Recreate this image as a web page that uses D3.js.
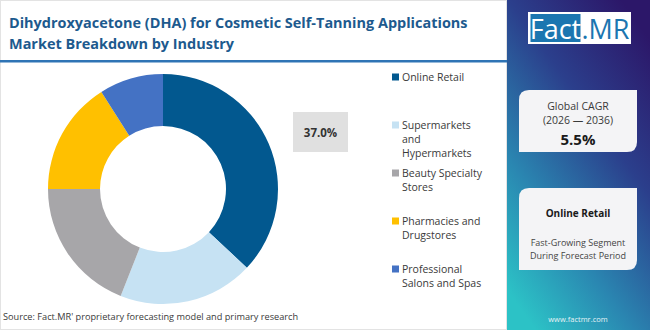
<!DOCTYPE html>
<html>
<head>
<meta charset="utf-8">
<script src="https://cdn.jsdelivr.net/npm/d3@7"></script>
<style>
  html, body { margin: 0; padding: 0; background: #ffffff; }
  svg { display: block; }
  text { font-family: "Open Sans", "Noto Sans", sans-serif; }
</style>
</head>
<body>
<svg id="chart" width="650" height="330"></svg>
<script>
// Market share by industry (percent)
const segments = ["Online Retail", "Supermarkets and Hypermarkets", "Beauty Specialty Stores", "Pharmacies and Drugstores", "Professional Salons and Spas"];
const shares = [37, 19, 19, 16, 9];
const legendLines = [["Online Retail"], ["Supermarkets", "and", "Hypermarkets"], ["Beauty Specialty", "Stores"], ["Pharmacies and", "Drugstores"], ["Professional", "Salons and Spas"]];
const sliceColors = ["#02588f", "#c6e2f3", "#a7a6a9", "#ffc000", "#4472c4"];
const titleLines = ["Dihydroxyacetone (DHA) for Cosmetic Self-Tanning Applications", "Market Breakdown by  Industry"];
const cagrLabel = ["Global CAGR", "(2026 \u2014 2036)"];
const cagrValue = 5.5;
const leadSegment = "Online Retail";
const leadNote = ["Fast-Growing Segment", "During Forecast Period"];
const sourceText = "Source: Fact.MR' proprietary forecasting model and primary research";

const svg = d3.select("#chart");
const W = 650, H = 330, panelX = 507;

// ---- left white area with light frame
svg.append("rect").attr("x", 0.5).attr("y", 0.5).attr("width", panelX - 1).attr("height", H - 1)
  .attr("fill", "#ffffff").attr("stroke", "#e3e3e3");

// ---- title (shrunk if needed so the first line fits its column)
const title = svg.append("g");
const titleSize = 14.5;
const titleEls = titleLines.map((t, i) => title.append("text").attr("x", 9).attr("y", 28 + i * 21)
  .attr("font-size", titleSize).attr("font-weight", 700).attr("fill", "#1d5a8e").text(t));
const firstLen = titleEls[0].node().getComputedTextLength();
const titleTarget = 459;
if (firstLen > titleTarget) {
  title.selectAll("text").attr("font-size", titleSize * titleTarget / firstLen);
}
svg.append("rect").attr("x", 0).attr("y", 60).attr("width", panelX).attr("height", 2.5).attr("fill", "#2f74b5");

// ---- donut
const cx = 163, cy = 189, rOuter = 115, rInner = 63;
const pie = d3.pie().sort(null).value(d => d.v);
const arc = d3.arc().innerRadius(rInner).outerRadius(rOuter);
const data = segments.map((s, i) => ({ name: s, v: shares[i] }));
const color = d3.scaleOrdinal().domain(segments).range(sliceColors);
svg.append("g").attr("transform", `translate(${cx},${cy})`)
  .selectAll("path").data(pie(data)).join("path")
  .attr("d", arc).attr("fill", d => color(d.data.name));

// value callout for the leading segment
const total = d3.sum(shares);
const leadIdx = segments.indexOf(leadSegment);
const callout = svg.append("g").attr("transform", "translate(293,112)");
callout.append("rect").attr("width", 55).attr("height", 40).attr("fill", "#e0e0e0");
callout.append("text").attr("x", 27.5).attr("y", 24.5).attr("text-anchor", "middle")
  .attr("font-size", 11.5).attr("font-weight", 700).attr("fill", "#333333")
  .text(d3.format(".1f")(shares[leadIdx] / total * 100) + "%");

// ---- legend
const legendY = [77, 125, 173, 221, 269];
const legend = svg.append("g");
legendLines.forEach((lines, i) => {
  const g = legend.append("g").attr("transform", `translate(392,${legendY[i]})`);
  g.append("rect").attr("x", 0).attr("y", -3.5).attr("width", 7).attr("height", 7).attr("fill", sliceColors[i]);
  lines.forEach((ln, j) => {
    g.append("text").attr("x", 10).attr("y", j * 14).attr("dy", "0.35em")
      .attr("font-size", 10.5).attr("fill", "#3a3a3a").text(ln);
  });
});

// ---- right panel
const defs = svg.append("defs");
const grad = defs.append("linearGradient").attr("id", "panelGrad")
  .attr("x1", "0.8").attr("y1", "0").attr("x2", "0.2").attr("y2", "1");
grad.append("stop").attr("offset", "0").attr("stop-color", "#2c1769");
grad.append("stop").attr("offset", "0.35").attr("stop-color", "#2b3f8c");
grad.append("stop").attr("offset", "0.7").attr("stop-color", "#2a86b1");
grad.append("stop").attr("offset", "1").attr("stop-color", "#2cc2c6");
svg.append("rect").attr("x", panelX).attr("y", 0).attr("width", W - panelX).attr("height", H).attr("fill", "url(#panelGrad)");

// logo
const logoFont = "'Liberation Sans Narrow', 'DejaVu Sans Condensed', sans-serif";
const logo = svg.append("g").attr("transform", "translate(528,12)");
logo.append("rect").attr("width", 103).attr("height", 32).attr("fill", "#ffffff");
logo.append("rect").attr("x", 2.5).attr("y", 2).attr("width", 50).attr("height", 28).attr("fill", "#1b76b0");
logo.append("text").attr("x", 27.5).attr("y", 26.5).attr("text-anchor", "middle")
  .attr("font-size", 27).attr("fill", "#ffffff").attr("font-family", logoFont).text("Fact");
logo.append("text").attr("x", 77.5).attr("y", 26.5).attr("text-anchor", "middle")
  .attr("font-size", 27).attr("fill", "#1b76b0").attr("font-family", logoFont).text(".MR");

// leaf-shaped card: rounded top-left and bottom-right corners
function card(x, y, w, h, r) {
  return `M${x},${y + h} L${x},${y + r} Q${x},${y} ${x + r},${y} L${x + w},${y} L${x + w},${y + h - r} Q${x + w},${y + h} ${x + w - r},${y + h} Z`;
}
svg.append("path").attr("d", card(519, 90, 118, 62, 10)).attr("fill", "#f4f4f6");
svg.append("path").attr("d", card(519, 188, 118, 82, 10)).attr("fill", "#f4f4f6");

const pcx = 578;
cagrLabel.forEach((t, i) => {
  svg.append("text").attr("x", pcx).attr("y", 106 + i * 14).attr("dy", "0.35em").attr("text-anchor", "middle")
    .attr("font-size", 10.5).attr("fill", "#3a3a3a").text(t);
});
svg.append("text").attr("x", pcx).attr("y", 139.5).attr("dy", "0.35em").attr("text-anchor", "middle")
  .attr("font-size", 15).attr("font-weight", 700).attr("fill", "#1a1a1a").text(cagrValue.toFixed(1) + "%");

svg.append("text").attr("x", pcx).attr("y", 213).attr("dy", "0.35em").attr("text-anchor", "middle")
  .attr("font-size", 10).attr("font-weight", 700).attr("fill", "#1a1a1a").text(leadSegment);
leadNote.forEach((t, i) => {
  svg.append("text").attr("x", pcx).attr("y", 243 + i * 12.5).attr("dy", "0.35em").attr("text-anchor", "middle")
    .attr("font-size", 9).attr("fill", "#444444").text(t);
});

svg.append("text").attr("x", pcx).attr("y", 319.5).attr("dy", "0.35em").attr("text-anchor", "middle")
  .attr("font-size", 7.5).attr("fill", "#e6f3f6").text("www.factmr.com");

// ---- source note
svg.append("text").attr("x", 3).attr("y", 317).attr("dy", "0.35em")
  .attr("font-size", 9.2).attr("fill", "#3a3a3a").text(sourceText);
</script>
</body>
</html>
